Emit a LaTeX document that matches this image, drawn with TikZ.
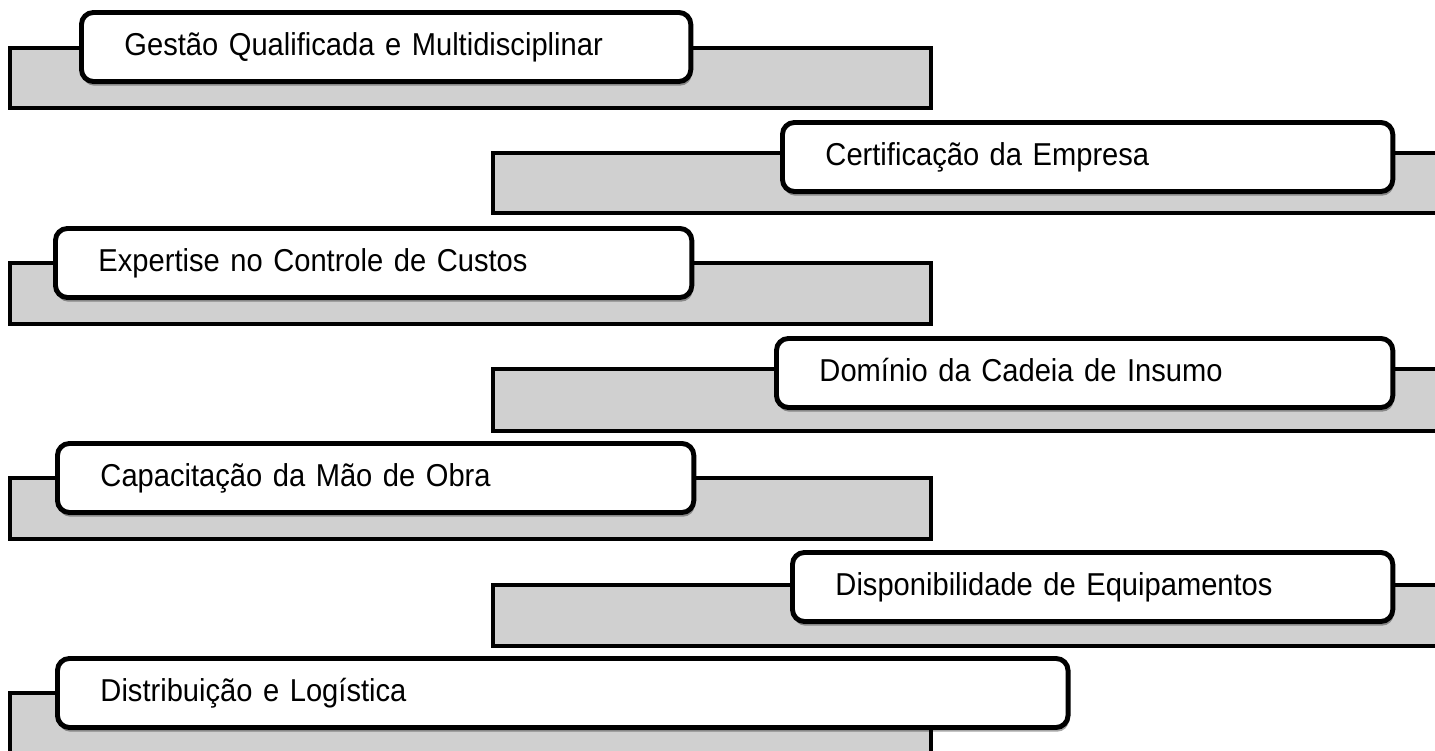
\documentclass[tikz,border=0pt]{standalone}
\usepackage{fontspec}
\setmainfont{Liberation Sans}[FakeStretch=0.92]
\usetikzlibrary{shadows}
\definecolor{barfill}{RGB}{208,208,208}
\newcommand\tagfont{\fontsize{9}{11}\selectfont\setlength{\spaceskip}{1.6pt}}
\tikzset{
	bar/.style={draw=black, fill=barfill, line width=1pt},
	tag/.style={draw=black, fill=white, line width=1.4pt, rounded corners=0.12cm,
		anchor=north west, inner xsep=0.43cm, inner ysep=0pt, minimum height=0.69cm,
		text height=0.30cm, text depth=0.12cm,
		align=left, font=\tagfont,
		drop shadow={shadow xshift=0.3pt, shadow yshift=-1.2pt, opacity=0.35, fill=black}},
}

\begin{document}
\begin{tikzpicture}[x=0.01cm, y=-0.01cm]
		\useasboundingbox (0,0) rectangle (1435,751);
		\clip (0,0) rectangle (1435,751);
		\draw[bar] (10,48) rectangle (931,108);
		\node[tag, text width=5.23cm] (gestao) at (79,10) {Gestão Qualificada e Multidisciplinar};
		\draw[bar] (493,153) rectangle (1460,213);
		\node[tag, text width=5.24cm] (certif) at (780,120) {Certificação da Empresa};
		\draw[bar] (10,263) rectangle (931,324);
		\node[tag, text width=5.50cm] (custos) at (53,226) {Expertise no Controle de Custos};
		\draw[bar] (493,369) rectangle (1460,431);
		\node[tag, text width=5.30cm] (insumo) at (774,336) {Domínio da Cadeia de Insumo};
		\draw[bar] (10,478) rectangle (931,539);
		\node[tag, text width=5.50cm] (maoobra) at (55,441) {Capacitação da Mão de Obra};
		\draw[bar] (493,585) rectangle (1460,646);
		\node[tag, text width=5.14cm] (equip) at (790,550) {Disponibilidade de Equipamentos};
		\draw[bar] (10,693) rectangle (931,780);
		\node[tag, text width=9.24cm] (logist) at (55,656) {Distribuição e Logística};
\end{tikzpicture}
\end{document}
